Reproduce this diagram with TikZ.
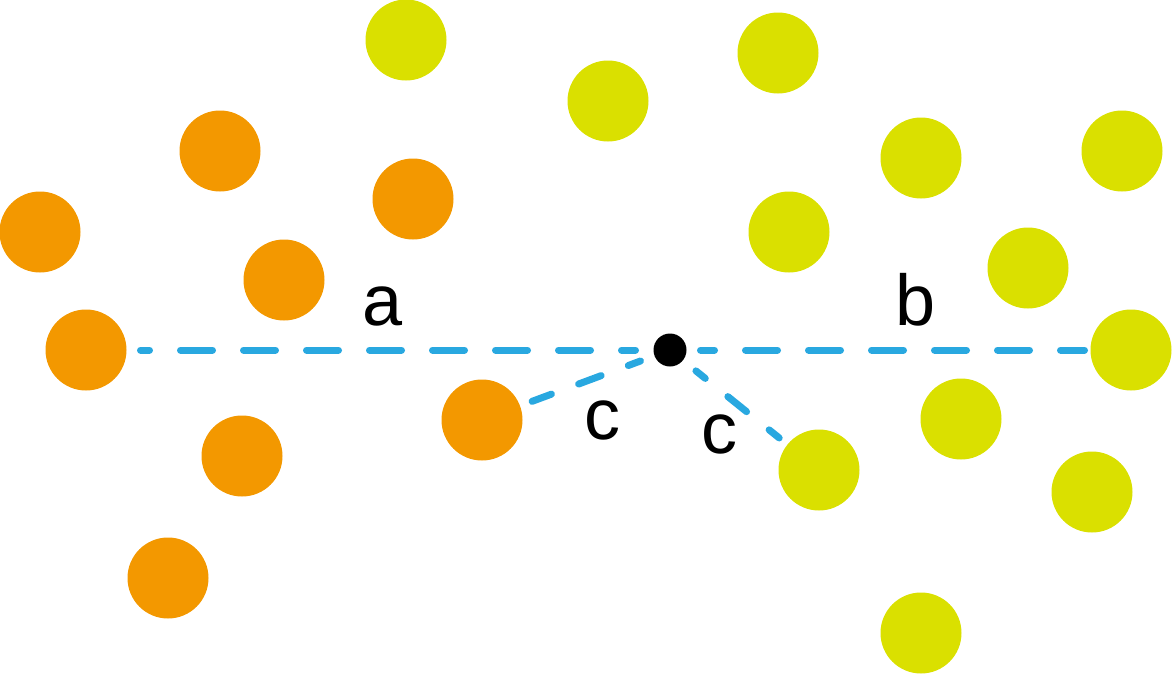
\documentclass[tikz,border=0pt]{standalone}
\usepackage{fontspec}
\setmainfont{Liberation Sans}
\definecolor{dotorange}{HTML}{F39800}
\definecolor{dotyellow}{HTML}{DAE000}
\definecolor{linkblue}{HTML}{29A8E0}

\begin{document}
\begin{tikzpicture}[
		x=0.5pt, y=-0.5pt,
		ball/.style={circle, minimum size=40.5pt, inner sep=0pt, outer sep=0pt},
		orng/.style={ball, fill=dotorange},
		yell/.style={ball, fill=dotyellow},
		query/.style={circle, fill=black, minimum size=16.5pt, inner sep=0pt, outer sep=0pt},
		dist/.style={linkblue, line width=3.5pt, line cap=round,
			dash pattern=on 16pt off 15.5pt, dash phase=9pt},
		cline/.style={linkblue, line width=3.5pt, line cap=round,
			dash pattern=on 12pt off 14.5pt},
		lbl/.style={anchor=base, inner sep=0pt, font=\fontsize{36}{40}\selectfont}
	]
	\useasboundingbox (0,0) rectangle (1174,675);

	% orange class
	\node[orng] (o1) at (220,151) {};
	\node[orng] (o2) at (40,232) {};
	\node[orng] (o3) at (413,199) {};
	\node[orng] (o4) at (284,280) {};
	\node[orng] (o5) at (86,350) {};
	\node[orng] (o6) at (482,420) {};
	\node[orng] (o7) at (242,456) {};
	\node[orng] (o8) at (168,578) {};

	% yellow class
	\node[yell] (y1) at (406,40) {};
	\node[yell] (y2) at (608,101) {};
	\node[yell] (y3) at (778,53) {};
	\node[yell] (y4) at (921,158) {};
	\node[yell] (y5) at (1122,151) {};
	\node[yell] (y6) at (789,232) {};
	\node[yell] (y7) at (1028,268) {};
	\node[yell] (y8) at (1131,350) {};
	\node[yell] (y9) at (961,419) {};
	\node[yell] (y10) at (819,470) {};
	\node[yell] (y11) at (1092,492) {};
	\node[yell] (y12) at (921,633) {};

	\node[query] (q) at (670,350) {};

	\draw[dist, shorten <=9pt, shorten >=7pt] (q) -- (o5);
	\draw[dist, shorten <=7pt, shorten >=3pt] (q) -- (y8);
	\draw[cline, dash phase=5.5pt, shorten <=7.5pt, shorten >=6.5pt] (q) -- (o6);
	\draw[cline, dash phase=6pt, shorten <=8.4pt, shorten >=5.3pt] (q) -- (y10);

	\node[lbl] (la) at (383,325) {a};
	\node[lbl] (lb) at (916,325) {b};
	\node[lbl] (lc1) at (602,439) {c};
	\node[lbl] (lc2) at (719,453) {c};
\end{tikzpicture}
\end{document}
